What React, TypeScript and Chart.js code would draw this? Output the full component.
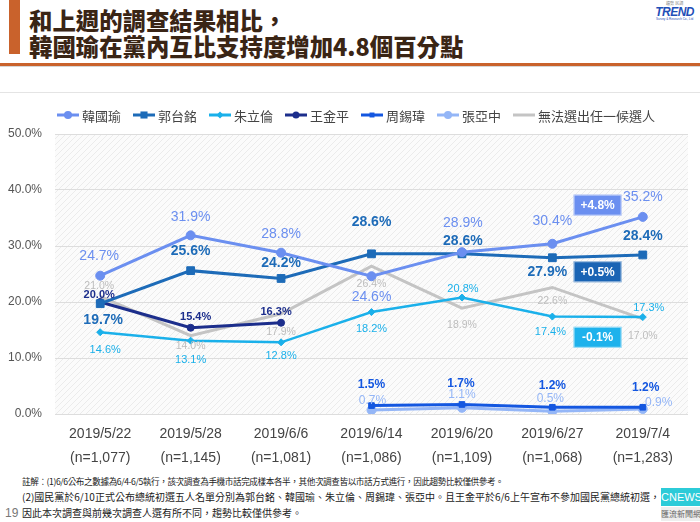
import { useEffect, useRef } from "react";
import { Chart, registerables } from "chart.js";

Chart.register(...registerables);

// ---------- data ----------
const dates = ["2019/5/22", "2019/5/28", "2019/6/6", "2019/6/14", "2019/6/20", "2019/6/27", "2019/7/4"];
const sampleSizes = ["(n=1,077)", "(n=1,145)", "(n=1,081)", "(n=1,086)", "(n=1,109)", "(n=1,068)", "(n=1,283)"];

const seriesNames = ["韓國瑜", "郭台銘", "朱立倫", "王金平", "周錫瑋", "張亞中", "無法選出任一候選人"];
const hanKuoYu = [24.7, 31.9, 28.8, 24.6, 28.9, 30.4, 35.2];
const terryGou = [19.7, 25.6, 24.2, 28.6, 28.6, 27.9, 28.4];
const ericChu = [14.6, 13.1, 12.8, 18.2, 20.8, 17.4, 17.3];
const wangJinPyng = [20.0, 15.4, 16.3, null, null, null, null];
const chowHsiWei = [null, null, null, 1.5, 1.7, 1.2, 1.2];
const changYaChung = [null, null, null, 0.7, 1.1, 0.5, 0.9];
const undecided = [21.0, 14.0, 17.9, 26.4, 18.9, 22.6, 17.0];

const yMin = 0;
const yMax = 50;
const yStep = 10;

const changeTexts = ["+4.8%", "+0.5%", "-0.1%"];

// ---------- styles (kept apart from the data) ----------
const FONT = "'Liberation Sans', Arial, 'Noto Sans CJK TC', sans-serif";
const CJK = "'Noto Sans CJK TC', 'Liberation Sans', sans-serif";

type Marker = "circle" | "rect" | "rectRot" | "none";
const seriesStyles: {
  color: string; labelColor: string; width: number; marker: Marker; r: number;
  font: string; offsets: number[][];
}[] = [
  { color: "#6b8ff0", labelColor: "#6b8ff0", width: 3, marker: "circle", r: 4.5, font: `14px ${FONT}`,
    offsets: [[-1, -20], [0, -18], [0, -19], [0, 21], [1, -29], [0, -23], [0, -20]] },
  { color: "#1d6bb8", labelColor: "#1d6bb8", width: 3, marker: "rect", r: 5.5, font: `bold 14px ${FONT}`,
    offsets: [[3, 16], [0, -19], [0, -15], [0, -32], [1, -13], [-5, 14], [0, -19]] },
  { color: "#1ab0ea", labelColor: "#1ab0ea", width: 2.5, marker: "rectRot", r: 3.5, font: `11px ${FONT}`,
    offsets: [[5, 18], [0, 19], [0, 14], [0, 17], [1, -9], [-2, 15], [6, -9]] },
  { color: "#1c2e8c", labelColor: "#1c2e8c", width: 3, marker: "circle", r: 3.5, font: `bold 11px ${FONT}`,
    offsets: [[-1, -7], [5, -11], [-5, -11], [0, 0], [0, 0], [0, 0], [0, 0]] },
  { color: "#1457e0", labelColor: "#1457e0", width: 3, marker: "rect", r: 4, font: `bold 12px ${FONT}`,
    offsets: [[0, 0], [0, 0], [0, 0], [0, -21], [-1, -21], [0, -22], [3, -20]] },
  { color: "#94b6f7", labelColor: "#94b6f7", width: 3, marker: "circle", r: 4.5, font: `12px ${FONT}`,
    offsets: [[0, 0], [0, 0], [0, 0], [1, -9], [0, -13], [-2, -13], [16, -6]] },
  { color: "#c4c4c4", labelColor: "#bdbdbd", width: 3, marker: "none", r: 0, font: `10.5px ${FONT}`,
    offsets: [[-1, -10], [0, 11], [0, 18], [0, 18], [0, 17], [0, 14], [0, 17]] },
];

// change boxes: colour and vertical level (data units) at which each sits
const changeStyles = [
  { bg: "#6b8ff0", level: 37.3 },
  { bg: "#1a64b4", level: 25.4 },
  { bg: "#1eb2ec", level: 13.7 },
];

const seriesData = [hanKuoYu, terryGou, ericChu, wangJinPyng, chowHsiWei, changYaChung, undecided];

function drawMarker(ctx: CanvasRenderingContext2D, m: Marker, x: number, y: number, r: number, color: string) {
  ctx.save();
  ctx.fillStyle = color;
  ctx.beginPath();
  if (m === "circle") {
    ctx.arc(x, y, r, 0, Math.PI * 2);
  } else if (m === "rect") {
    const s = r * Math.SQRT1_2;
    ctx.rect(x - s, y - s, 2 * s, 2 * s);
  } else if (m === "rectRot") {
    ctx.moveTo(x, y - r);
    ctx.lineTo(x + r, y);
    ctx.lineTo(x, y + r);
    ctx.lineTo(x - r, y);
    ctx.closePath();
  }
  if (m !== "none") ctx.fill();
  ctx.restore();
}

const backgroundPlugin = {
  id: "hatchBg",
  beforeDraw(chart: any) {
    const { ctx, chartArea } = chart;
    const { left, top, right, bottom } = chartArea;
    const tile = document.createElement("canvas");
    tile.width = 6;
    tile.height = 6;
    const tc = tile.getContext("2d")!;
    tc.fillStyle = "#fbfbfb";
    tc.fillRect(0, 0, 6, 6);
    tc.strokeStyle = "#ebebeb";
    tc.lineWidth = 1;
    tc.beginPath();
    tc.moveTo(-1, 7); tc.lineTo(7, -1);
    tc.moveTo(-1, 1); tc.lineTo(1, -1);
    tc.moveTo(5, 7); tc.lineTo(7, 5);
    tc.stroke();
    ctx.save();
    ctx.fillStyle = ctx.createPattern(tile, "repeat");
    ctx.fillRect(left, top, right - left, bottom - top);
    ctx.restore();
  },
};

const legendPlugin = {
  id: "lineLegend",
  afterDraw(chart: any) {
    const { ctx } = chart;
    const y = 23;
    let x = 57;
    ctx.save();
    ctx.font = `13px ${CJK}`;
    ctx.textBaseline = "middle";
    ctx.textAlign = "left";
    seriesNames.forEach((name, i) => {
      const st = seriesStyles[i];
      ctx.strokeStyle = st.color;
      ctx.lineWidth = 3;
      ctx.beginPath();
      ctx.moveTo(x, y);
      ctx.lineTo(x + 22, y);
      ctx.stroke();
      if (st.marker !== "none") drawMarker(ctx, st.marker, x + 11, y, Math.max(st.r - 0.5, 3.5), st.color);
      ctx.fillStyle = "#444";
      ctx.fillText(name, x + 25, y + 1);
      x += 25 + ctx.measureText(name).width + 12;
    });
    ctx.restore();
  },
};

const labelPlugin = {
  id: "valueLabels",
  afterDatasetsDraw(chart: any) {
    const { ctx } = chart;
    ctx.save();
    ctx.textAlign = "center";
    ctx.textBaseline = "middle";
    chart.data.datasets.forEach((ds: any, di: number) => {
      const meta = chart.getDatasetMeta(di);
      const st = seriesStyles[di];
      ctx.font = st.font;
      ctx.fillStyle = st.labelColor;
      ds.data.forEach((v: number | null, i: number) => {
        if (v === null || v === undefined) return;
        const pt = meta.data[i];
        const [dx, dy] = st.offsets[i];
        ctx.fillText(v.toFixed(1) + "%", pt.x + dx, pt.y + dy);
      });
    });
    // change boxes between the last two surveys
    const xs = chart.scales.x;
    const ys = chart.scales.y;
    const last = dates.length - 1;
    const cx = (xs.getPixelForTick(last - 1) + xs.getPixelForTick(last)) / 2;
    ctx.font = `bold 12px ${FONT}`;
    changeTexts.forEach((t, i) => {
      const cs = changeStyles[i];
      const cy = ys.getPixelForValue(cs.level);
      const w = 48, h = 21;
      ctx.fillStyle = cs.bg;
      ctx.fillRect(cx - w / 2, cy - h / 2, w, h);
      ctx.strokeStyle = "rgba(255,255,255,0.6)";
      ctx.lineWidth = 1;
      ctx.strokeRect(cx - w / 2 + 0.5, cy - h / 2 + 0.5, w - 1, h - 1);
      ctx.fillStyle = "#ffffff";
      ctx.fillText(t, cx, cy + 0.5);
    });
    ctx.restore();
  },
};

export default function App() {
  const ref = useRef<HTMLCanvasElement>(null);

  useEffect(() => {
    const canvas = ref.current!;
    const chart = new Chart(canvas, {
      type: "line",
      data: {
        labels: dates.map((d, i) => [d, sampleSizes[i]]),
        datasets: seriesData.map((data, i) => {
          const st = seriesStyles[i];
          return {
            label: seriesNames[i],
            data,
            borderColor: st.color,
            backgroundColor: st.color,
            borderWidth: st.width,
            pointStyle: st.marker === "none" ? "circle" : st.marker,
            pointRadius: st.r,
            pointBorderWidth: 1,
            pointBorderColor: st.color,
            pointBackgroundColor: st.color,
            tension: 0,
            spanGaps: false,
            fill: false,
          };
        }),
      },
      options: {
        responsive: false,
        animation: false,
        events: [],
        layout: { padding: { top: 42, right: 12, bottom: 2, left: 0 } },
        plugins: { legend: { display: false }, tooltip: { enabled: false } },
        scales: {
          x: {
            offset: true,
            grid: { display: false, drawTicks: false },
            border: { display: false },
            ticks: {
              color: "#444",
              font: { family: FONT, size: 14, lineHeight: "24px" },
              padding: 8,
              autoSkip: false,
              maxRotation: 0,
            },
            afterFit(s: any) { s.height = 56; },
          },
          y: {
            min: yMin,
            max: yMax,
            ticks: {
              stepSize: yStep,
              color: "#555",
              font: { family: FONT, size: 12 },
              padding: 13,
              callback: (v: any) => Number(v).toFixed(1) + "%",
            },
            grid: { color: "#dddddd", drawTicks: false, lineWidth: 1 },
            border: { display: false },
            afterFit(s: any) { s.width = 55; },
          },
        },
      },
      plugins: [backgroundPlugin, labelPlugin, legendPlugin],
    } as any);
    return () => chart.destroy();
  }, []);

  return (
    <div style={{ position: "fixed", left: 0, top: 0, width: 700, height: 522, overflow: "hidden", background: "#fff" }}>
      {/* title */}
      <div style={{ position: "absolute", left: 9, top: 0, width: 11, height: 54, background: "#c9622c" }} />
      <div style={{
        position: "absolute", left: 29, top: 7, fontFamily: CJK, fontWeight: 900, fontSize: 23.4,
        lineHeight: "26px", color: "#3a2515", whiteSpace: "nowrap",
      }}>
        <div>和上週的調查結果相比，</div>
        <div>韓國瑜在黨內互比支持度增加4.8個百分點</div>
      </div>
      <div style={{ position: "absolute", left: 0, top: 63, width: 700, height: 3, background: "#c9622c" }} />
      <div style={{ position: "absolute", left: 0, top: 66, width: 700, height: 1, background: "#d6d6d6" }} />
      {/* logo */}
      <div style={{ position: "absolute", right: 6, top: 2, textAlign: "center", fontFamily: FONT, lineHeight: 1 }}>
        <div style={{ fontSize: 4, color: "#888" }}>趨勢 民調</div>
        <div style={{ fontSize: 12, fontWeight: "bold", fontStyle: "italic", color: "#1f4fb8", letterSpacing: -0.5 }}>TREND</div>
        <div style={{ fontSize: 3, color: "#1f4fb8" }}>Survey &amp; Research Co., Ltd</div>
      </div>
      {/* panel top border */}
      <div style={{ position: "absolute", left: 0, top: 92, width: 700, height: 1, background: "#e4e4e4" }} />
      <canvas ref={ref} width={700} height={380} style={{ position: "absolute", left: 0, top: 92, width: 700, height: 380 }} />
      {/* footnotes */}
      <div style={{
        position: "absolute", left: 22, top: 473, fontFamily: CJK, fontSize: 10, lineHeight: "16px",
        color: "#222", whiteSpace: "nowrap",
      }}>
        <div style={{ fontSize: 8.6, letterSpacing: -0.4 }}>註解：(1)6/6公布之數據為6/4-6/5執行，該次調查為手機市話完成樣本各半，其他次調查皆以市話方式進行，因此趨勢比較僅供參考。</div>
        <div>(2)國民黨於6/10正式公布總統初選五人名單分別為郭台銘、韓國瑜、朱立倫、周錫瑋、張亞中。且王金平於6/6上午宣布不參加國民黨總統初選，</div>
        <div>因此本次調查與前幾次調查人選有所不同，趨勢比較僅供參考。</div>
      </div>
      <div style={{ position: "absolute", left: 5, top: 506, fontFamily: FONT, fontSize: 12, color: "#777" }}>19</div>
      {/* CNEWS logo */}
      <div style={{
        position: "absolute", left: 661, top: 488, width: 39, height: 18, background: "#2ccbd8", color: "#fff",
        fontFamily: FONT, fontSize: 11, lineHeight: "18px", textAlign: "center", overflow: "hidden",
      }}>CNEWS</div>
      <div style={{
        position: "absolute", left: 661, top: 507, width: 39, height: 14, background: "#eeeeee", color: "#666",
        fontFamily: CJK, fontSize: 8, lineHeight: "14px", textAlign: "center", overflow: "hidden", whiteSpace: "nowrap",
      }}>匯流新聞網</div>
    </div>
  );
}
